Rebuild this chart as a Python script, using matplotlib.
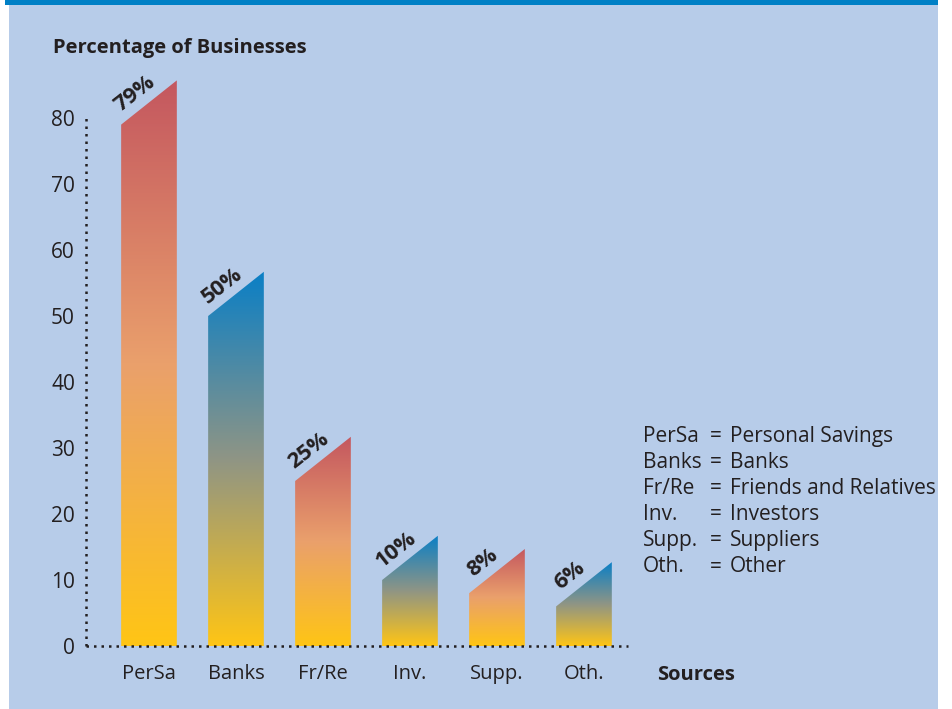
import numpy as np
import matplotlib.pyplot as plt
from matplotlib.colors import LinearSegmentedColormap
from matplotlib.patches import Polygon, Rectangle

# data
sources = ['PerSa', 'Banks', 'Fr/Re', 'Inv.', 'Supp.', 'Oth.']
percent = [79, 50, 25, 10, 8, 6]
top_color = ['red', 'blue', 'red', 'blue', 'red', 'blue']
legend_abbr = ['PerSa', 'Banks', 'Fr/Re', 'Inv.', 'Supp.', 'Oth.']
legend_full = ['Personal Savings', 'Banks', 'Friends and Relatives',
               'Investors', 'Suppliers', 'Other']
yticks = [0, 10, 20, 30, 40, 50, 60, 70, 80]

plt.rcParams['font.family'] = ['Open Sans', 'DejaVu Sans']
W, H = 952, 709
BG = '#b7cce9'
TXT = '#231f20'

cmaps = {
    'red': LinearSegmentedColormap.from_list('r', [(0, '#ffc515'), (0.5, '#eaa06c'), (1, '#c4575f')]),
    'blue': LinearSegmentedColormap.from_list('b', [(0, '#ffc515'), (0.5, '#8f9585'), (1, '#0a7fc6')]),
}

fig = plt.figure(figsize=(W / 100, H / 100), dpi=100)
fig.patch.set_facecolor('white')
fig.patches.append(Rectangle((9 / W, 0), (938 - 9) / W, 1, transform=fig.transFigure,
                             facecolor=BG, edgecolor='none', zorder=-10))
fig.patches.append(Rectangle((5 / W, 1 - 5 / H), (938 - 5) / W, 5 / H, transform=fig.transFigure,
                             facecolor='#0080c6', edgecolor='none', zorder=-9))

px_per_unit = 6.6
ax = fig.add_axes([86 / W, 63 / H, 542 / W, 90 * px_per_unit / H])
ax.set_facecolor('none')
for s in ax.spines.values():
    s.set_visible(False)

bw = 0.64
slant = 6.7
grad = np.linspace(0, 1, 256).reshape(-1, 1)
for i, (v, c) in enumerate(zip(percent, top_color)):
    x0, x1 = i - bw / 2, i + bw / 2
    poly = Polygon([(x0, 0), (x1, 0), (x1, v + slant), (x0, v)], closed=True,
                   facecolor='none', edgecolor='none')
    ax.add_patch(poly)
    im = ax.imshow(grad, cmap=cmaps[c], origin='lower', aspect='auto',
                   extent=[x0, x1, 0, v + slant], zorder=2)
    im.set_clip_path(poly)
    ax.annotate(f'{v}%', xy=(i, v + slant / 2), xytext=(-10, 6), textcoords='offset points',
                rotation=38, ha='center', va='center', fontsize=16, fontweight='bold',
                color=TXT, rotation_mode='anchor')

ax.set_xlim(-0.724, 5.506)
ax.set_ylim(0, 90)

# dotted axes
ax.plot([-0.724, -0.724], [0, 80], color=TXT, lw=1.8, ls=(0, (1, 2)), clip_on=False, zorder=3)
ax.plot([-0.724, 5.506], [0, 0], color=TXT, lw=1.8, ls=(0, (1, 2)), clip_on=False, zorder=3)

ax.set_yticks(yticks)
ax.set_yticklabels([str(t) for t in yticks], fontsize=15, color=TXT)
ax.set_xticks(range(len(sources)))
ax.set_xticklabels(sources, fontsize=14.5, color=TXT)
ax.tick_params(axis='y', length=0, pad=8)
ax.tick_params(axis='x', length=0, pad=13)

fig.text(53 / W, 1 - 48 / H, 'Percentage of Businesses', fontsize=14.5, fontweight='bold',
         color=TXT, va='center', ha='left')
fig.text(657 / W, 1 - 675 / H, 'Sources', fontsize=14.5, fontweight='bold',
         color=TXT, va='center', ha='left')

for k, (a, f) in enumerate(zip(legend_abbr, legend_full)):
    y = 1 - (436 + 26.2 * k) / H
    fig.text(643 / W, y, a, fontsize=15, color=TXT, va='center', ha='left')
    fig.text(710 / W, y, '=', fontsize=15, color=TXT, va='center', ha='left')
    fig.text(730 / W, y, f, fontsize=15, color=TXT, va='center', ha='left')

fig.savefig('out.png', dpi=100, facecolor=fig.get_facecolor())
